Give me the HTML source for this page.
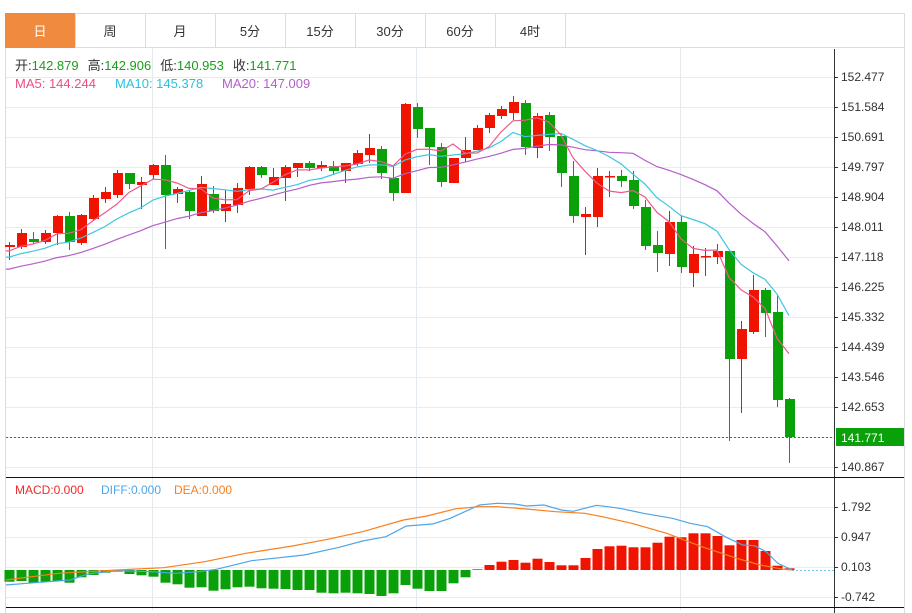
<!DOCTYPE html>
<html><head><meta charset="utf-8">
<style>
html,body{margin:0;padding:0;background:#fff;}
body{width:912px;height:613px;overflow:hidden;position:relative;font-family:"Liberation Sans","Noto Sans CJK SC",sans-serif;}
svg{position:absolute;left:0;top:0;}
</style></head>
<body>
<svg id="s" width="912" height="613" xmlns="http://www.w3.org/2000/svg" font-family="Liberation Sans, Noto Sans CJK SC, sans-serif"></svg>
<script>
const S=document.getElementById('s');
let h='';
const L=(x1,y1,x2,y2,c,w,extra)=>{h+=`<line x1="${x1}" y1="${y1}" x2="${x2}" y2="${y2}" stroke="${c}" stroke-width="${w||1}" ${extra||''}/>`;};
const T=(x,y,t,c,sz,anchor)=>{h+=`<text x="${x}" y="${y}" fill="${c}" font-size="${sz||12}" ${anchor?'text-anchor="'+anchor+'"':''}>${t}</text>`;};
// frame
h+=`<rect x="5.5" y="13.5" width="899" height="34" fill="none" stroke="#dcdcdc"/>`;
h+=`<rect x="5.5" y="13.5" width="70" height="34" fill="#f08a3e" stroke="#f08a3e"/>`;
const tabs=['日','周','月','5分','15分','30分','60分','4时'];
for(let i=0;i<8;i++){const x0=5+70*i; if(i>0)L(x0+0.5,13,x0+0.5,48,'#dcdcdc'); T(x0+35,36,tabs[i],i==0?'#fff':'#333',13,'middle');}
L(565.5,13,565.5,48,'#dcdcdc');
L(5.5,48,5.5,613,'#dcdcdc');L(904.5,48,904.5,613,'#dcdcdc');
// grid price
const py=[77,107,137,167,197,227,257,287,317,347,377,407,467];
const pl=['152.477','151.584','150.691','149.797','148.904','148.011','147.118','146.225','145.332','144.439','143.546','142.653','140.867'];
py.forEach((y,i)=>{L(6,y+0.5,834,y+0.5,'#e6ecf1');L(834,y+0.5,838,y+0.5,'#333');T(841,y+4,pl[i],'#333',12);});
L(6,437.5,834,437.5,'#e6ecf1');
[152,416,680].forEach(x=>L(x+0.5,48,x+0.5,610,'#e2eaf0'));
// macd grid
const my=[507,537,567,597],ml=['1.792','0.947','0.103','-0.742'];
my.forEach((y,i)=>{L(6,y+0.5,834,y+0.5,'#e6ecf1');L(834,y+0.5,838,y+0.5,'#333');T(841,y+4,ml[i],'#333',12);});
// candles
const C=[[245,247,242,260,1],[233,247,229,249,1],[239,242,232,244,0],[233,242,230,244,1],[216,233,215,245,1],[216,242,212,250,0],[215,243,214,245,1],[198,219,195,220,1],[192,199,187,203,1],[173,195,170,198,1],[173,184,173,189,0],[182,185,177,209,1],[165,175,164,179,1],[165,195,155,249,0],[189,194,187,203,1],[192,211,190,219,0],[184,216,176,216,1],[194,211,186,213,0],[204,211,190,222,1],[188,205,183,213,1],[167,189,166,195,1],[167,175,166,178,0],[177,185,168,185,1],[167,178,165,201,1],[163,168,163,177,1],[163,168,161,171,0],[165,168,161,171,1],[166,171,161,175,0],[163,171,163,183,1],[153,164,150,166,1],[148,155,134,163,1],[149,173,146,179,0],[178,193,166,201,0],[104,193,103,193,1],[107,129,103,138,0],[128,147,128,165,0],[147,182,143,187,0],[158,183,158,183,1],[150,158,137,162,1],[128,150,125,150,1],[115,128,113,133,1],[109,116,106,119,1],[102,113,96,120,1],[103,147,100,155,0],[116,148,113,158,1],[115,137,112,151,0],[136,173,136,187,0],[176,216,161,223,0],[214,217,207,255,1],[176,217,168,227,1],[176,177,171,197,1],[176,181,170,187,0],[180,206,171,209,0],[207,246,200,250,0],[245,253,231,272,0],[222,254,211,266,1],[222,267,215,273,0],[254,273,246,287,1],[256,257,248,276,1],[251,257,244,264,1],[251,359,251,441,0],[329,359,321,413,1],[290,332,275,334,1],[290,313,288,337,0],[312,400,295,407,0],[399,437,398,463,0]];
const R='#f01400',G='#0aa00a';
const closes=[];
C.forEach((c,i)=>{const x=9+12*i,col=c[4]?R:G;L(x+0.5,c[2],x+0.5,c[3],col,1);h+=`<rect x="${x-4}" y="${c[0]}" width="10" height="${Math.max(1.5,c[1]-c[0])}" fill="${col}"/>`;closes.push(c[4]?c[0]:c[1]);});
// MAs
const pre=[];for(let i=0;i<19;i++)pre.push(292-i*2.4);
const all=pre.concat(closes);
function ma(n,col,endI){let p=[];for(let i=0;i<closes.length;i++){const k=i+19;let s=0;for(let j=k-n+1;j<=k;j++)s+=all[j];p.push((9+12*i)+','+(s/n).toFixed(1));}
 p.unshift('6,'+p[0].split(',')[1]);h+=`<polyline points="${p.join(' ')}" fill="none" stroke="${col}" stroke-width="1.2"/>`;}
ma(20,'#b45fc8');ma(10,'#3fc6e0');ma(5,'#ec5b8c');
// current price
L(6,437.5,834,437.5,'#0aa00a',1,'stroke-dasharray="2,2"');
h+=`<rect x="836" y="428" width="68" height="18" fill="#0aa00a"/>`;T(841,442,'141.771','#fff',12);
// axis
L(834.5,49,834.5,613,'#333');
L(6,477.5,904,477.5,'#111');L(6,607.5,904,607.5,'#111');
// MACD bars
const gD=[335,333,338,335,333,338,322,315,308,305,312,316,320,338,343,353,352,362,358,352,350,355,356,357,360,360,368,370,368,370,372,378,370,345,356,363,363,340,322];
const rT=[298,285,275,270,278,266,276,286,286,264,237,229,227,232,232,218,200,202,190,190,198,226,210,210,243,287,295];
gD.forEach((Y,i)=>{const x=9+12*i,y=Y/3+470;h+=`<rect x="${x-4.5}" y="570" width="10" height="${(y-570).toFixed(1)}" fill="${G}"/>`;});
rT.forEach((Y,j)=>{const i=39+j,x=9+12*i,y=Y/3+470;h+=`<rect x="${x-4.5}" y="${y.toFixed(1)}" width="10" height="${(570-y).toFixed(1)}" fill="${R}"/>`;});
L(792,570.5,834,570.5,'#6cc8f0',1,'stroke-dasharray="2,2"');
const conv=a=>a.map(p=>(p[0]/1.71).toFixed(1)+','+(p[1]/3+470).toFixed(1)).join(' ');
const diff=[[10,345],[60,338],[120,330],[150,312],[200,302],[260,305],[300,310],[340,305],[370,298],[430,272],[520,255],[580,232],[620,213],[660,200],[695,168],[740,162],[770,145],[820,105],[850,100],[880,102],[900,108],[930,105],[960,120],[980,124],[1020,106],[1060,115],[1100,130],[1150,145],[1180,160],[1210,170],[1240,200],[1270,225],[1290,227],[1310,245],[1330,280],[1355,300]];
const dea=[[10,330],[100,310],[200,300],[280,293],[350,275],[420,250],[500,228],[560,208],[620,185],[690,150],[730,138],[780,116],[820,110],[850,110],[900,117],[950,125],[1000,130],[1030,140],[1080,160],[1140,190],[1200,230],[1260,265],[1300,285],[1340,298],[1355,300]];
h+=`<polyline points="${conv(diff)}" fill="none" stroke="#4da6e8" stroke-width="1.2"/>`;
h+=`<polyline points="${conv(dea)}" fill="none" stroke="#f97f1e" stroke-width="1.2"/>`;
// legends
h+=`<text y="70" font-size="13"><tspan x="15" fill="#333">开:</tspan><tspan fill="#1a9e1a">142.879</tspan><tspan fill="#333" dx="9">高:</tspan><tspan fill="#1a9e1a">142.906</tspan><tspan fill="#333" dx="9">低:</tspan><tspan fill="#1a9e1a">140.953</tspan><tspan fill="#333" dx="9">收:</tspan><tspan fill="#1a9e1a">141.771</tspan></text>`;
T(15,88,'MA5: 144.244','#ec4f82',13);T(115,88,'MA10: 145.378','#2bc0dd',13);T(222,88,'MA20: 147.009','#b45fc8',13);
T(15,494,'MACD:0.000','#f02a2a',12);T(101,494,'DIFF:0.000','#4da6e8',12);T(174,494,'DEA:0.000','#f97f1e',12);
S.innerHTML=h;
</script>
</body></html>
